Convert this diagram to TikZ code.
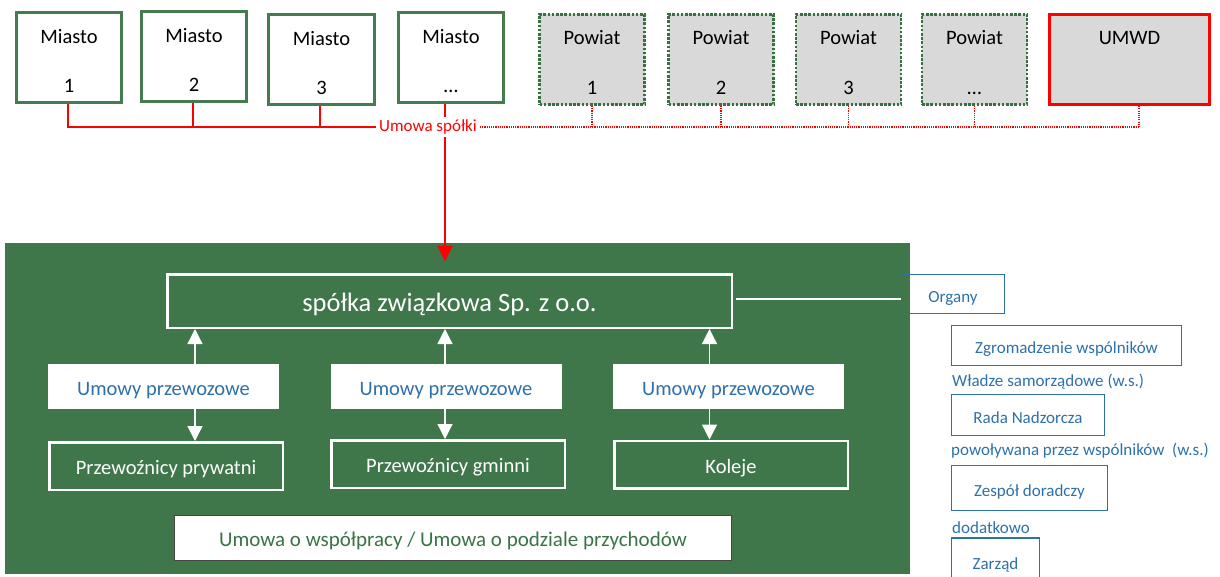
\documentclass[tikz,border=0pt]{standalone}
\usepackage{fontspec}
\setmainfont{Carlito}
\usetikzlibrary{arrows.meta,calc}

\definecolor{panelgreen}{RGB}{63,119,75}
\definecolor{boxgreen}{RGB}{68,124,80}
\definecolor{dotgreen}{RGB}{58,112,64}
\definecolor{orgblue}{RGB}{46,112,170}
\definecolor{boxgray}{RGB}{217,217,217}
\definecolor{darkline}{RGB}{70,70,70}
\definecolor{umowagreen}{RGB}{58,116,70}
\definecolor{lred}{RGB}{255,0,0}

\tikzset{
  big/.style={font=\fontsize{20.5}{24}\selectfont},
  huge/.style={font=\fontsize{26.5}{30}\selectfont},
  small/.style={font=\fontsize{17}{20}\selectfont},
  bigstrut/.style={text height=21.5pt, text depth=4pt},
  hugestrut/.style={text height=26.5pt, text depth=5pt},
  smallstrut/.style={text height=20pt, text depth=4pt},
  citybox/.style={draw=boxgreen, line width=2.6pt, minimum width=105.5pt,
    minimum height=90.5pt, inner sep=0pt},
  districtbox/.style={draw=dotgreen, fill=boxgray, line width=2.6pt,
    dash pattern=on 2.6pt off 1.6pt, minimum width=105pt, minimum height=90.5pt, inner sep=0pt},
  regionbox/.style={draw=lred, fill=boxgray, line width=2.8pt,
    minimum width=160pt, minimum height=90.5pt, inner sep=0pt},
  boxtext/.style={big, anchor=base, inner sep=0pt},
  redline/.style={draw=lred, line width=1.3pt},
  reddot/.style={draw=lred, line width=1.1pt, dash pattern=on 1.1pt off 1.1pt},
  redarrow/.style={draw=lred, line width=1.3pt,
    -{Triangle[width=15.5pt,length=16pt]}},
  whitearrow/.style={draw=white, line width=1.3pt,
    -{Triangle[width=15pt,length=15pt]}},
  mainbox/.style={draw=white, line width=2.5pt, text=white, huge, hugestrut,
    minimum width=564.5pt, minimum height=53.5pt, inner sep=0pt},
  contractbox/.style={fill=white, text=orgblue, big, bigstrut,
    minimum width=231pt, minimum height=45pt, inner sep=0pt},
  carrierbox/.style={draw=white, line width=2.5pt, text=white, big, bigstrut,
    minimum width=233.5pt, minimum height=47.5pt, inner sep=0pt},
  bluebox/.style={draw=orgblue, line width=1.4pt, text=orgblue, small, smallstrut, inner sep=0pt},
  bluetext/.style={text=orgblue, small, anchor=west, inner sep=0pt},
}

\begin{document}
\begin{tikzpicture}[x=1pt, y=-1pt]
\useasboundingbox (0,0) rectangle (1220,576);

% green panel holding the company structure
\node[fill=panelgreen, minimum width=905pt, minimum height=331pt, inner sep=0pt]
  (panel) at (457.5,408.5) {};

% member cities
\node[citybox] (m1) at (69,57.5) {};
\node[citybox] (m2) at (194,56.5) {};
\node[citybox] (m3) at (321.5,59.5) {};
\node[citybox] (m4) at (451,57.5) {};
\foreach \n/\t in {m1/1, m2/2, m3/3, m4/…} {
  \node[boxtext] (\n a) at ($(\n.north)+(0,32.5)$) {Miasto};
  \node[boxtext] (\n b) at ($(\n.north)+(0,82)$) {\t};
}

% districts and the voivodeship office
\node[districtbox] (p1) at (592,59.5) {};
\node[districtbox] (p2) at (721,59.5) {};
\node[districtbox] (p3) at (848.5,59.5) {};
\node[districtbox] (p4) at (974.5,59.5) {};
\node[regionbox] (umwd) at (1129.5,59.5) {};
\foreach \n/\t in {p1/1, p2/2, p3/3, p4/…} {
  \node[boxtext] (\n a) at ($(\n.north)+(0,32)$) {Powiat};
  \node[boxtext] (\n b) at ($(\n.north)+(0,81.5)$) {\t};
}
\node[boxtext] (umwda) at ($(umwd.north)+(0,32)$) {UMWD};

% company agreement feeding the company
\coordinate (ax) at (445,0);
\coordinate (arrowend) at (445,261.5);
\draw[redarrow] (m4.south -| ax) -- (arrowend);

\node[small, text=lred, fill=white, inner sep=3pt] (us) at (428,127) {Umowa spółki};
\coordinate (umwdbus) at (1139,127);
\coordinate (b1) at (68,0);
\coordinate (b2) at (193,0);
\coordinate (b3) at (320,0);

\draw[redline] (m1.south -| b1) |- (us.west);
\draw[redline] (m2.south -| b2) -- (b2 |- us.west);
\draw[redline] (m3.south -| b3) -- (b3 |- us.west);
\draw[reddot] (us.east) -- (umwdbus);
\foreach \n in {p1,p2,p3,p4} {
  \draw[reddot] (\n.south) -- (\n.south |- umwdbus);
}
\draw[reddot] (umwd.south -| umwdbus) -- (umwdbus);

% the company
\node[mainbox] (spolka) at (449.5,301) {spółka związkowa Sp. z o.o.};

% transport contracts
\node[contractbox] (u1) at (163.5,386.5) {Umowy przewozowe};
\node[contractbox] (u2) at (446,386.5) {Umowy przewozowe};
\node[contractbox] (u3) at (728.5,386.5) {Umowy przewozowe};

% carriers
\node[carrierbox] (c1) at (166,466) {Przewoźnicy prywatni};
\node[carrierbox] (c2) at (448,464) {Przewoźnicy gminni};
\node[carrierbox] (c3) at (731,464.5) {Koleje};

\coordinate (x1) at (195,0);
\coordinate (x2) at (445,0);
\coordinate (x3) at (709.5,0);
\draw[whitearrow] (u1.north -| x1) -- (spolka.south -| x1);
\draw[whitearrow] (u2.north -| x2) -- (spolka.south -| x2);
\draw[whitearrow] (u3.north -| x3) -- (spolka.south -| x3);
\draw[whitearrow] (u1.south -| x1) -- (c1.north -| x1);
\draw[whitearrow] (u2.south -| x2) -- (c2.north -| x2);
\draw[whitearrow] (u3.south -| x3) -- (c3.north -| x3);

% cooperation agreement
\node[fill=white, draw=darkline, line width=1pt, text=umowagreen,
  text height=21.5pt, text depth=4pt,
  font=\fontsize{21}{24}\selectfont, minimum width=557pt, minimum height=45pt,
  inner sep=0pt] (coop) at (453,538) {Umowa o współpracy / Umowa o podziale przychodów};

% company bodies
\node[bluebox, minimum width=103pt, minimum height=39pt] (organy) at (953,294) {Organy};
\draw[draw=white, line width=1.2pt] (spolka.east) ++(3,-2) -- (organy.west |- 0,299);

\node[bluebox, minimum width=230pt, minimum height=40pt] (zgr) at (1066.5,345.5) {Zgromadzenie wspólników};
\node[bluetext] (wladze) at (952,381.5) {Władze samorządowe (w.s.)};
\node[bluebox, minimum width=153pt, minimum height=41pt] (rada) at (1028,415) {Rada Nadzorcza};
\node[bluetext] (powol) at (951,450.5) {powoływana przez wspólników~ (w.s.)};
\node[bluebox, minimum width=156pt, minimum height=45pt] (zesp) at (1029.5,488) {Zespół doradczy};
\node[bluetext] (dodat) at (952,527.5) {dodatkowo};
\node[bluebox, minimum width=88pt, minimum height=46pt] (zarzad) at (995.5,561) {Zarząd};
\end{tikzpicture}
\end{document}
